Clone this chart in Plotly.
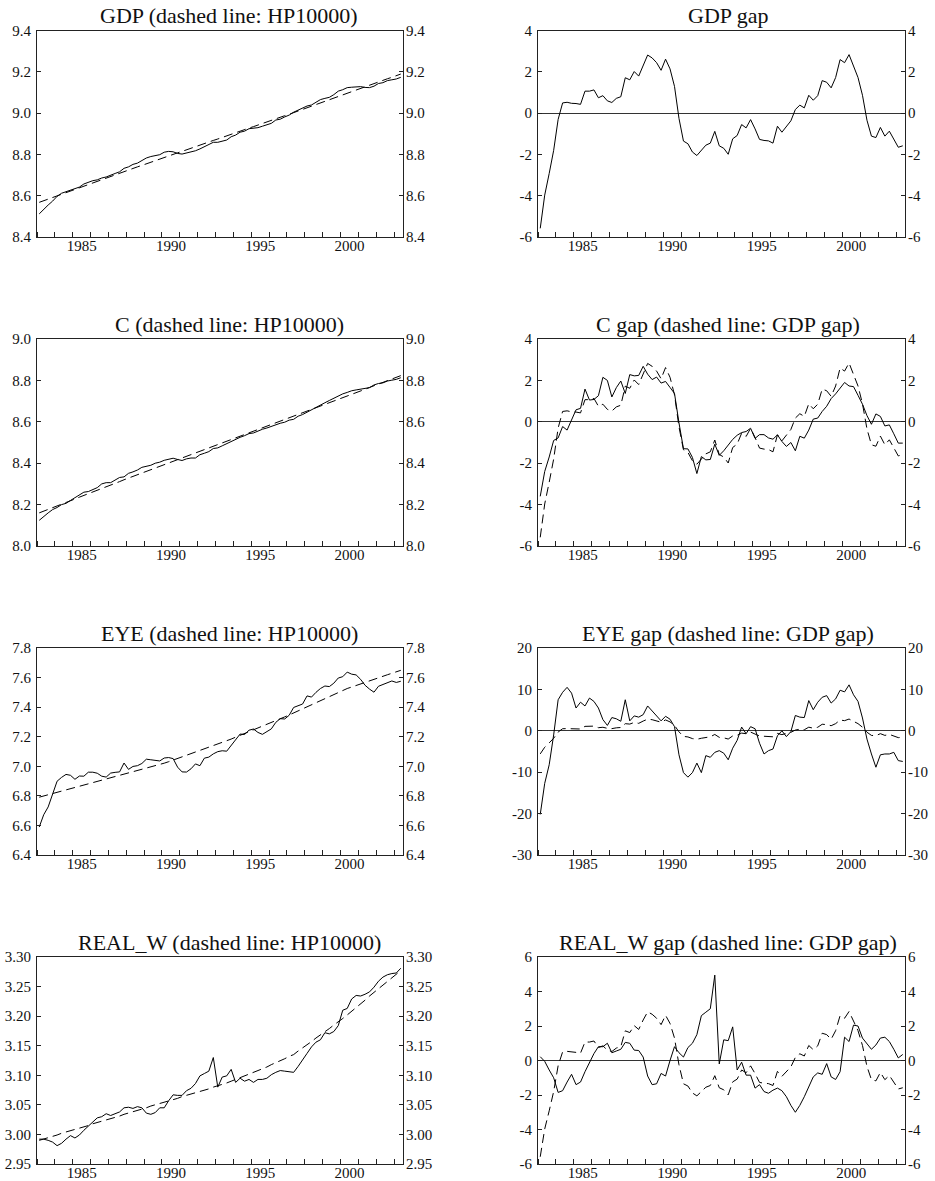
import plotly.graph_objects as go

# ---------------- data (quarterly, 1983Q1 .. 2003Q2) ----------------
FIRST_YEAR = 1983
N_QUARTERS = 82
year_labels = ["1985", "1990", "1995", "2000"]

gdp_level = [8.512, 8.536, 8.555, 8.574, 8.597, 8.612, 8.620, 8.628, 8.635, 8.642,
             8.657, 8.665, 8.673, 8.677, 8.686, 8.691, 8.698, 8.708, 8.716, 8.733,
             8.740, 8.752, 8.758, 8.771, 8.783, 8.790, 8.795, 8.799, 8.811, 8.815,
             8.813, 8.805, 8.802, 8.808, 8.811, 8.818, 8.827, 8.838, 8.846, 8.859,
             8.859, 8.866, 8.870, 8.886, 8.894, 8.908, 8.913, 8.925, 8.927, 8.930,
             8.937, 8.945, 8.951, 8.967, 8.971, 8.982, 8.991, 9.005, 9.015, 9.021,
             9.035, 9.040, 9.051, 9.066, 9.072, 9.077, 9.090, 9.107, 9.114, 9.124,
             9.126, 9.129, 9.129, 9.125, 9.124, 9.131, 9.144, 9.148, 9.158, 9.162,
             9.166, 9.174]
gdp_trend = [8.568, 8.576, 8.584, 8.591, 8.599, 8.607, 8.615, 8.623, 8.630, 8.638,
             8.646, 8.654, 8.662, 8.669, 8.677, 8.685, 8.693, 8.701, 8.708, 8.716,
             8.724, 8.732, 8.740, 8.747, 8.755, 8.763, 8.770, 8.778, 8.785, 8.793,
             8.800, 8.808, 8.815, 8.823, 8.830, 8.838, 8.845, 8.853, 8.860, 8.868,
             8.875, 8.883, 8.890, 8.898, 8.905, 8.913, 8.920, 8.928, 8.935, 8.943,
             8.950, 8.958, 8.965, 8.973, 8.980, 8.988, 8.995, 9.003, 9.011, 9.018,
             9.026, 9.034, 9.042, 9.050, 9.057, 9.065, 9.073, 9.081, 9.089, 9.096,
             9.104, 9.112, 9.120, 9.128, 9.135, 9.143, 9.151, 9.159, 9.167, 9.174,
             9.182, 9.190]
gdp_gap = [-5.58, -3.97, -2.92, -1.80, -0.30, 0.50, 0.53, 0.48, 0.47, 0.43,
           1.07, 1.07, 1.13, 0.75, 0.85, 0.60, 0.52, 0.72, 0.80, 1.72,
           1.62, 2.02, 1.80, 2.35, 2.82, 2.68, 2.45, 2.08, 2.62, 2.15,
           1.30, -0.25, -1.35, -1.48, -1.88, -2.05, -1.80, -1.55, -1.45, -0.88,
           -1.58, -1.70, -1.99, -1.24, -1.08, -0.55, -0.71, -0.31, -0.76, -1.27,
           -1.32, -1.34, -1.45, -0.63, -0.92, -0.63, -0.37, 0.18, 0.39, 0.26,
           0.87, 0.63, 0.85, 1.58, 1.50, 1.23, 1.73, 2.60, 2.45, 2.84,
           2.24, 1.73, 0.87, -0.34, -1.11, -1.18, -0.69, -1.11, -0.87, -1.23,
           -1.65, -1.58]

c_level = [8.124, 8.144, 8.160, 8.176, 8.186, 8.200, 8.206, 8.220, 8.233, 8.243,
           8.260, 8.263, 8.272, 8.282, 8.300, 8.306, 8.306, 8.320, 8.331, 8.334,
           8.351, 8.358, 8.367, 8.380, 8.385, 8.390, 8.400, 8.405, 8.414, 8.419,
           8.424, 8.418, 8.413, 8.421, 8.425, 8.425, 8.441, 8.448, 8.456, 8.471,
           8.474, 8.484, 8.495, 8.506, 8.516, 8.525, 8.533, 8.543, 8.546, 8.556,
           8.564, 8.570, 8.578, 8.588, 8.593, 8.598, 8.608, 8.612, 8.627, 8.635,
           8.647, 8.660, 8.669, 8.680, 8.692, 8.703, 8.714, 8.724, 8.735, 8.742,
           8.750, 8.754, 8.758, 8.760, 8.765, 8.778, 8.785, 8.788, 8.797, 8.801,
           8.805, 8.813]
c_trend = [8.160, 8.168, 8.177, 8.185, 8.194, 8.202, 8.210, 8.219, 8.227, 8.236,
           8.244, 8.252, 8.261, 8.269, 8.278, 8.286, 8.294, 8.303, 8.311, 8.320,
           8.328, 8.336, 8.345, 8.353, 8.362, 8.370, 8.378, 8.386, 8.394, 8.402,
           8.410, 8.418, 8.426, 8.434, 8.442, 8.450, 8.458, 8.466, 8.474, 8.482,
           8.490, 8.498, 8.506, 8.514, 8.522, 8.530, 8.538, 8.546, 8.554, 8.562,
           8.570, 8.578, 8.586, 8.594, 8.602, 8.610, 8.618, 8.626, 8.634, 8.643,
           8.651, 8.659, 8.667, 8.675, 8.684, 8.692, 8.700, 8.708, 8.716, 8.725,
           8.733, 8.741, 8.749, 8.757, 8.766, 8.774, 8.782, 8.790, 8.798, 8.807,
           8.815, 8.823]
c_gap = [-3.60, -2.40, -1.70, -0.90, -0.78, -0.23, -0.40, 0.05, 0.58, 0.65,
         1.58, 1.05, 1.08, 1.26, 2.15, 2.00, 1.20, 1.65, 1.97, 1.37,
         2.28, 2.22, 2.24, 2.68, 2.30, 2.04, 2.16, 1.87, 1.95, 1.66,
         1.37, -0.05, -1.30, -1.31, -1.72, -2.50, -1.68, -1.84, -1.82, -1.08,
         -1.62, -1.40, -1.10, -0.85, -0.65, -0.52, -0.47, -0.31, -0.80, -0.62,
         -0.62, -0.78, -0.84, -0.63, -0.95, -1.19, -1.00, -1.40, -0.70, -0.79,
         -0.40, 0.13, 0.18, 0.50, 0.75, 1.12, 1.35, 1.62, 1.90, 1.73,
         1.70, 1.28, 0.85, 0.30, -0.12, 0.38, 0.26, -0.20, -0.15, -0.58,
         -1.03, -1.03]

eye_level = [6.589, 6.672, 6.725, 6.806, 6.899, 6.925, 6.945, 6.939, 6.912, 6.934,
             6.933, 6.960, 6.960, 6.953, 6.933, 6.927, 6.954, 6.959, 6.962, 7.022,
             6.979, 6.999, 7.004, 7.019, 7.048, 7.044, 7.040, 7.036, 7.056, 7.059,
             7.052, 6.994, 6.962, 6.961, 6.983, 7.016, 7.004, 7.055, 7.062, 7.084,
             7.099, 7.105, 7.102, 7.142, 7.174, 7.218, 7.215, 7.244, 7.252, 7.229,
             7.216, 7.236, 7.253, 7.297, 7.322, 7.320, 7.345, 7.398, 7.408, 7.421,
             7.476, 7.468, 7.500, 7.526, 7.543, 7.539, 7.562, 7.597, 7.606, 7.637,
             7.623, 7.618, 7.588, 7.548, 7.522, 7.501, 7.541, 7.553, 7.563, 7.577,
             7.567, 7.575]
eye_trend = [6.791, 6.799, 6.807, 6.816, 6.824, 6.832, 6.840, 6.848, 6.857, 6.865,
             6.873, 6.881, 6.889, 6.898, 6.906, 6.914, 6.922, 6.930, 6.939, 6.947,
             6.955, 6.963, 6.971, 6.980, 6.988, 6.996, 7.004, 7.012, 7.021, 7.031,
             7.042, 7.052, 7.063, 7.073, 7.084, 7.094, 7.105, 7.115, 7.126, 7.136,
             7.147, 7.159, 7.172, 7.184, 7.197, 7.209, 7.222, 7.234, 7.247, 7.259,
             7.272, 7.284, 7.297, 7.309, 7.322, 7.334, 7.347, 7.361, 7.375, 7.389,
             7.403, 7.417, 7.431, 7.445, 7.458, 7.472, 7.485, 7.499, 7.512, 7.526,
             7.536, 7.547, 7.557, 7.568, 7.578, 7.589, 7.599, 7.609, 7.619, 7.629,
             7.639, 7.649]
eye_gap = [-20.2, -12.7, -8.2, -1.0, 7.5, 9.3, 10.5, 9.1, 5.5, 6.9,
           6.0, 7.9, 7.1, 5.5, 2.7, 1.3, 3.2, 2.9, 2.3, 7.5,
           2.4, 3.6, 3.3, 3.9, 6.0, 4.8, 3.6, 2.4, 3.5, 2.8,
           1.0, -5.8, -10.1, -11.2, -10.1, -7.8, -10.1, -6.0, -6.4, -5.2,
           -4.8, -5.4, -7.0, -4.2, -2.3, 0.9, -0.7, 1.0, 0.5, -3.0,
           -5.6, -4.8, -4.4, -1.2, 0.0, -1.4, -0.2, 3.7, 3.3, 3.2,
           7.3, 5.1, 6.9, 8.1, 8.5, 6.7, 7.7, 9.8, 9.4, 11.1,
           8.7, 7.1, 3.1, -2.0, -5.6, -8.8, -5.8, -5.6, -5.6, -5.2,
           -7.2, -7.4]

realw_level = [2.992, 2.992, 2.990, 2.987, 2.981, 2.985, 2.992, 2.998, 2.994, 2.999,
               3.007, 3.014, 3.022, 3.028, 3.030, 3.035, 3.032, 3.035, 3.038, 3.045,
               3.046, 3.044, 3.047, 3.045, 3.036, 3.034, 3.037, 3.045, 3.045, 3.057,
               3.067, 3.066, 3.066, 3.074, 3.078, 3.086, 3.099, 3.103, 3.107, 3.130,
               3.080, 3.097, 3.099, 3.110, 3.088, 3.095, 3.090, 3.093, 3.088, 3.093,
               3.093, 3.095, 3.101, 3.105, 3.108, 3.107, 3.106, 3.105, 3.115, 3.125,
               3.137, 3.148, 3.156, 3.160, 3.172, 3.170, 3.174, 3.184, 3.210, 3.213,
               3.229, 3.235, 3.234, 3.237, 3.241, 3.249, 3.259, 3.266, 3.270, 3.272,
               3.273, 3.281]
realw_trend = [2.990, 2.992, 2.995, 2.997, 2.999, 3.002, 3.004, 3.006, 3.008, 3.011,
               3.013, 3.015, 3.018, 3.020, 3.022, 3.025, 3.027, 3.029, 3.031, 3.034,
               3.036, 3.038, 3.041, 3.043, 3.045, 3.048, 3.050, 3.052, 3.054, 3.057,
               3.059, 3.061, 3.064, 3.066, 3.068, 3.071, 3.073, 3.075, 3.077, 3.080,
               3.082, 3.085, 3.087, 3.090, 3.093, 3.096, 3.098, 3.101, 3.104, 3.107,
               3.111, 3.114, 3.118, 3.121, 3.125, 3.128, 3.132, 3.135, 3.141, 3.146,
               3.152, 3.157, 3.163, 3.168, 3.174, 3.179, 3.185, 3.190, 3.196, 3.202,
               3.208, 3.215, 3.221, 3.227, 3.234, 3.240, 3.246, 3.252, 3.259, 3.265,
               3.271, 3.277]
realw_gap = [0.22, -0.05, -0.55, -1.00, -1.85, -1.75, -1.25, -0.80, -1.40, -1.25,
             -0.65, -0.15, 0.40, 0.80, 0.80, 1.00, 0.45, 0.55, 0.65, 1.05,
             1.00, 0.60, 0.58, 0.20, -0.90, -1.40, -1.35, -0.75, -0.90, 0.00,
             0.80, 0.45, 0.20, 0.75, 1.00, 1.50, 2.60, 2.80, 3.00, 4.95,
             -0.20, 1.20, 1.15, 1.95, -0.55, -0.10, -0.85, -0.85, -1.60, -1.40,
             -1.80, -1.90, -1.72, -1.60, -1.75, -2.10, -2.60, -3.00, -2.60, -2.10,
             -1.50, -0.95, -0.72, -0.80, -0.18, -0.95, -1.10, -0.65, 1.35, 1.10,
             2.05, 2.00, 1.30, 0.95, 0.65, 0.90, 1.30, 1.35, 1.10, 0.65,
             0.15, 0.35]

# quarter positions on the time axis (mid-quarter)
quarter_pos = [FIRST_YEAR + (i + 0.5) / 4 for i in range(N_QUARTERS)]

# ---------------- layout geometry (window pixels) ----------------
W, H = 935, 1181
COLS = [(37, 403), (538, 905)]
ROWS = [(30.7, 237), (339, 546), (648, 855), (957, 1164)]
TITLE_X = [229, 728]
FONT = "Liberation Serif, Times New Roman, serif"
AXC = "#222222"
TXT = "#111111"


def px_x(x):
    return x / W


def px_y(y):
    return 1 - y / H


panels = [
    dict(title="GDP (dashed line: HP10000)", r=0, c=0, solid=gdp_level, dashed=gdp_trend,
         rng=(8.4, 9.4), ticks=[8.4, 8.6, 8.8, 9.0, 9.2, 9.4], fmt="{:.1f}", zero=False),
    dict(title="GDP gap", r=0, c=1, solid=gdp_gap, dashed=None,
         rng=(-6, 4), ticks=[-6, -4, -2, 0, 2, 4], fmt="{:.0f}", zero=True),
    dict(title="C (dashed line: HP10000)", r=1, c=0, solid=c_level, dashed=c_trend,
         rng=(8.0, 9.0), ticks=[8.0, 8.2, 8.4, 8.6, 8.8, 9.0], fmt="{:.1f}", zero=False),
    dict(title="C gap (dashed line: GDP gap)", r=1, c=1, solid=c_gap, dashed=gdp_gap,
         rng=(-6, 4), ticks=[-6, -4, -2, 0, 2, 4], fmt="{:.0f}", zero=True),
    dict(title="EYE (dashed line: HP10000)", r=2, c=0, solid=eye_level, dashed=eye_trend,
         rng=(6.4, 7.8), ticks=[6.4, 6.6, 6.8, 7.0, 7.2, 7.4, 7.6, 7.8], fmt="{:.1f}", zero=False),
    dict(title="EYE gap (dashed line: GDP gap)", r=2, c=1, solid=eye_gap, dashed=gdp_gap,
         rng=(-30, 20), ticks=[-30, -20, -10, 0, 10, 20], fmt="{:.0f}", zero=True),
    dict(title="REAL_W (dashed line: HP10000)", r=3, c=0, solid=realw_level, dashed=realw_trend,
         rng=(2.95, 3.30), ticks=[2.95, 3.00, 3.05, 3.10, 3.15, 3.20, 3.25, 3.30], fmt="{:.2f}", zero=False),
    dict(title="REAL_W gap (dashed line: GDP gap)", r=3, c=1, solid=realw_gap, dashed=gdp_gap,
         rng=(-6, 6), ticks=[-6, -4, -2, 0, 2, 4, 6], fmt="{:.0f}", zero=True),
]

fig = go.Figure()
layout = dict(
    width=W, height=H, autosize=False,
    margin=dict(l=0, r=0, t=0, b=0, pad=0, autoexpand=False),
    paper_bgcolor="white", plot_bgcolor="white",
    showlegend=False, hovermode=False,
    font=dict(family=FONT, size=14, color=TXT),
    annotations=[],
)

for k, p in enumerate(panels):
    n = k + 1
    nr = k + 9
    x0, x1 = COLS[p["c"]]
    top, bot = ROWS[p["r"]]
    xdom = [px_x(x0), px_x(x1)]
    ydom = [px_y(bot), px_y(top)]
    xname = "x" if n == 1 else f"x{n}"
    yname = "y" if n == 1 else f"y{n}"
    ticktext = [p["fmt"].format(v) for v in p["ticks"]]

    layout[f"xaxis{n}"] = dict(
        domain=xdom, anchor=yname, range=[FIRST_YEAR, FIRST_YEAR + N_QUARTERS / 4],
        tickmode="array", tickvals=[int(y) + 0.5 for y in year_labels], ticktext=year_labels,
        ticks="", showgrid=False, zeroline=False, automargin=False,
        showline=True, mirror=True, linecolor=AXC, linewidth=1,
        tickfont=dict(family=FONT, size=15, color=TXT),
        ticklabelstandoff=-5,
        minor=dict(ticks="inside", ticklen=5, tickcolor=AXC, tickwidth=1,
                   tickmode="linear", tick0=FIRST_YEAR, dtick=1, showgrid=False),
        fixedrange=True,
    )
    layout[f"yaxis{n}"] = dict(
        domain=ydom, anchor=xname, range=list(p["rng"]),
        tickmode="array", tickvals=p["ticks"], ticktext=ticktext,
        ticks="inside", ticklen=4, tickcolor=AXC, automargin=False,
        showgrid=False, showline=True, mirror="ticks", linecolor=AXC, linewidth=1,
        zeroline=p["zero"], zerolinecolor="#333333", zerolinewidth=1,
        tickfont=dict(family=FONT, size=15, color=TXT),
        ticklabelstandoff=2, fixedrange=True,
    )
    layout[f"yaxis{nr}"] = dict(
        overlaying=yname, anchor=xname, side="right", range=list(p["rng"]),
        tickmode="array", tickvals=p["ticks"], ticktext=ticktext,
        ticks="", showgrid=False, showline=False, zeroline=False, automargin=False,
        tickfont=dict(family=FONT, size=15, color=TXT),
        ticklabelstandoff=2, fixedrange=True,
    )

    fig.add_trace(go.Scatter(x=quarter_pos, y=p["solid"], mode="lines",
                             line=dict(color="black", width=1),
                             xaxis=xname, yaxis=yname, hoverinfo="skip"))
    if p["dashed"] is not None:
        fig.add_trace(go.Scatter(x=quarter_pos, y=p["dashed"], mode="lines",
                                 line=dict(color="black", width=1, dash="9px,5px"),
                                 xaxis=xname, yaxis=yname, hoverinfo="skip"))
    # anchor trace so the right-hand axis is drawn
    fig.add_trace(go.Scatter(x=[quarter_pos[0]], y=[p["rng"][0]], mode="markers",
                             marker=dict(opacity=0, size=1),
                             xaxis=xname, yaxis=f"y{nr}", hoverinfo="skip"))

    layout["annotations"].append(dict(
        text=p["title"], xref="paper", yref="paper",
        x=px_x(TITLE_X[p["c"]]), y=px_y(top - 15),
        xanchor="center", yanchor="middle", showarrow=False,
        font=dict(family=FONT, size=22, color=TXT),
    ))

fig.update_layout(**layout)
# remove the page's default body margin so the figure fills the window exactly
fig.write_html("out.html",
               config={"displayModeBar": False, "staticPlot": True},
               post_script="document.body.style.margin='0';document.body.style.padding='0';")
